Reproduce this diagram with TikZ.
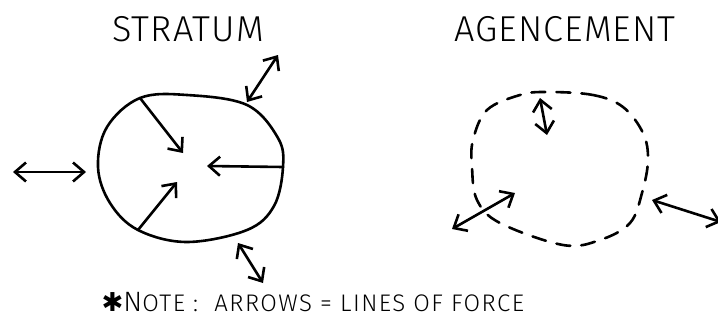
\documentclass[tikz,border=0pt]{standalone}
\usepackage{fontspec}
\setmainfont{Fira Sans}[UprightFont=* Light]
\newfontfamily\symfont{DejaVu Sans}
\usetikzlibrary{positioning,arrows.meta}

\begin{document}
\begin{tikzpicture}[x=1pt,y=-1pt,line width=2.6pt,line cap=round,line join=round,
  force/.style={{Straight Barb[length=11pt,width=19pt]}-{Straight Barb[length=11pt,width=19pt]}},
  push/.style={-{Straight Barb[length=11pt,width=19pt]}},
  title/.style={font=\fontsize{36}{40}\selectfont\addfontfeature{LetterSpace=3}},
  note/.style={font=\fontsize{24}{28}\selectfont\addfontfeature{LetterSpace=6}}]
\useasboundingbox (0,0) rectangle (718,332);
% titles
\node[title] (stratum) at (188,29) {STRATUM};
\node[title] (agence) at (565,29) {AGENCEMENT};
\node[note,anchor=west] (note) at (97,302) {{\symfont\fontsize{26}{26}\selectfont ✱}{\fontsize{28}{28}\selectfont N}OTE :\ \ ARROWS = LINES OF FORCE};
% stratum outline
\coordinate (s1) at (140,98); \coordinate (s2) at (283,167); \coordinate (s3) at (138,230);
\draw plot[smooth cycle,tension=0.6] coordinates {(s1) (187,95) (247,105) (278,138) (s2) (274,206) (247,230) (187,242) (s3) (110,203) (98,167) (107,127)};
\coordinate (c1) at (183,153); \coordinate (c2) at (207,166); \coordinate (c3) at (177,182);
\draw[push] (s1)--(c1); \draw[push] (s2)--(c2); \draw[push] (s3)--(c3);
\coordinate (l1) at (13,172); \coordinate (l2) at (86,172);
\coordinate (t1) at (247,102); \coordinate (t2) at (278,55);
\coordinate (b1) at (238,243); \coordinate (b2) at (263,283);
\draw[force] (l1)--(l2); \draw[force] (t1)--(t2); \draw[force] (b1)--(b2);
% agencement outline
\draw[dash pattern=on 14pt off 11pt] plot[smooth cycle,tension=0.6] coordinates {(547,92) (593,95) (623,107) (643,133) (648,160) (642,193) (630,223) (600,240) (563,245) (500,223) (477,200) (472,167) (473,140) (487,110) (520,95)};
\coordinate (a1) at (540,98); \coordinate (a2) at (547,135);
\coordinate (a3) at (452,229); \coordinate (a4) at (515,193);
\coordinate (a5) at (652,200); \coordinate (a6) at (721,222);
\draw[force] (a1)--(a2); \draw[force] (a3)--(a4); \draw[force] (a5)--(a6);
\end{tikzpicture}
\end{document}
